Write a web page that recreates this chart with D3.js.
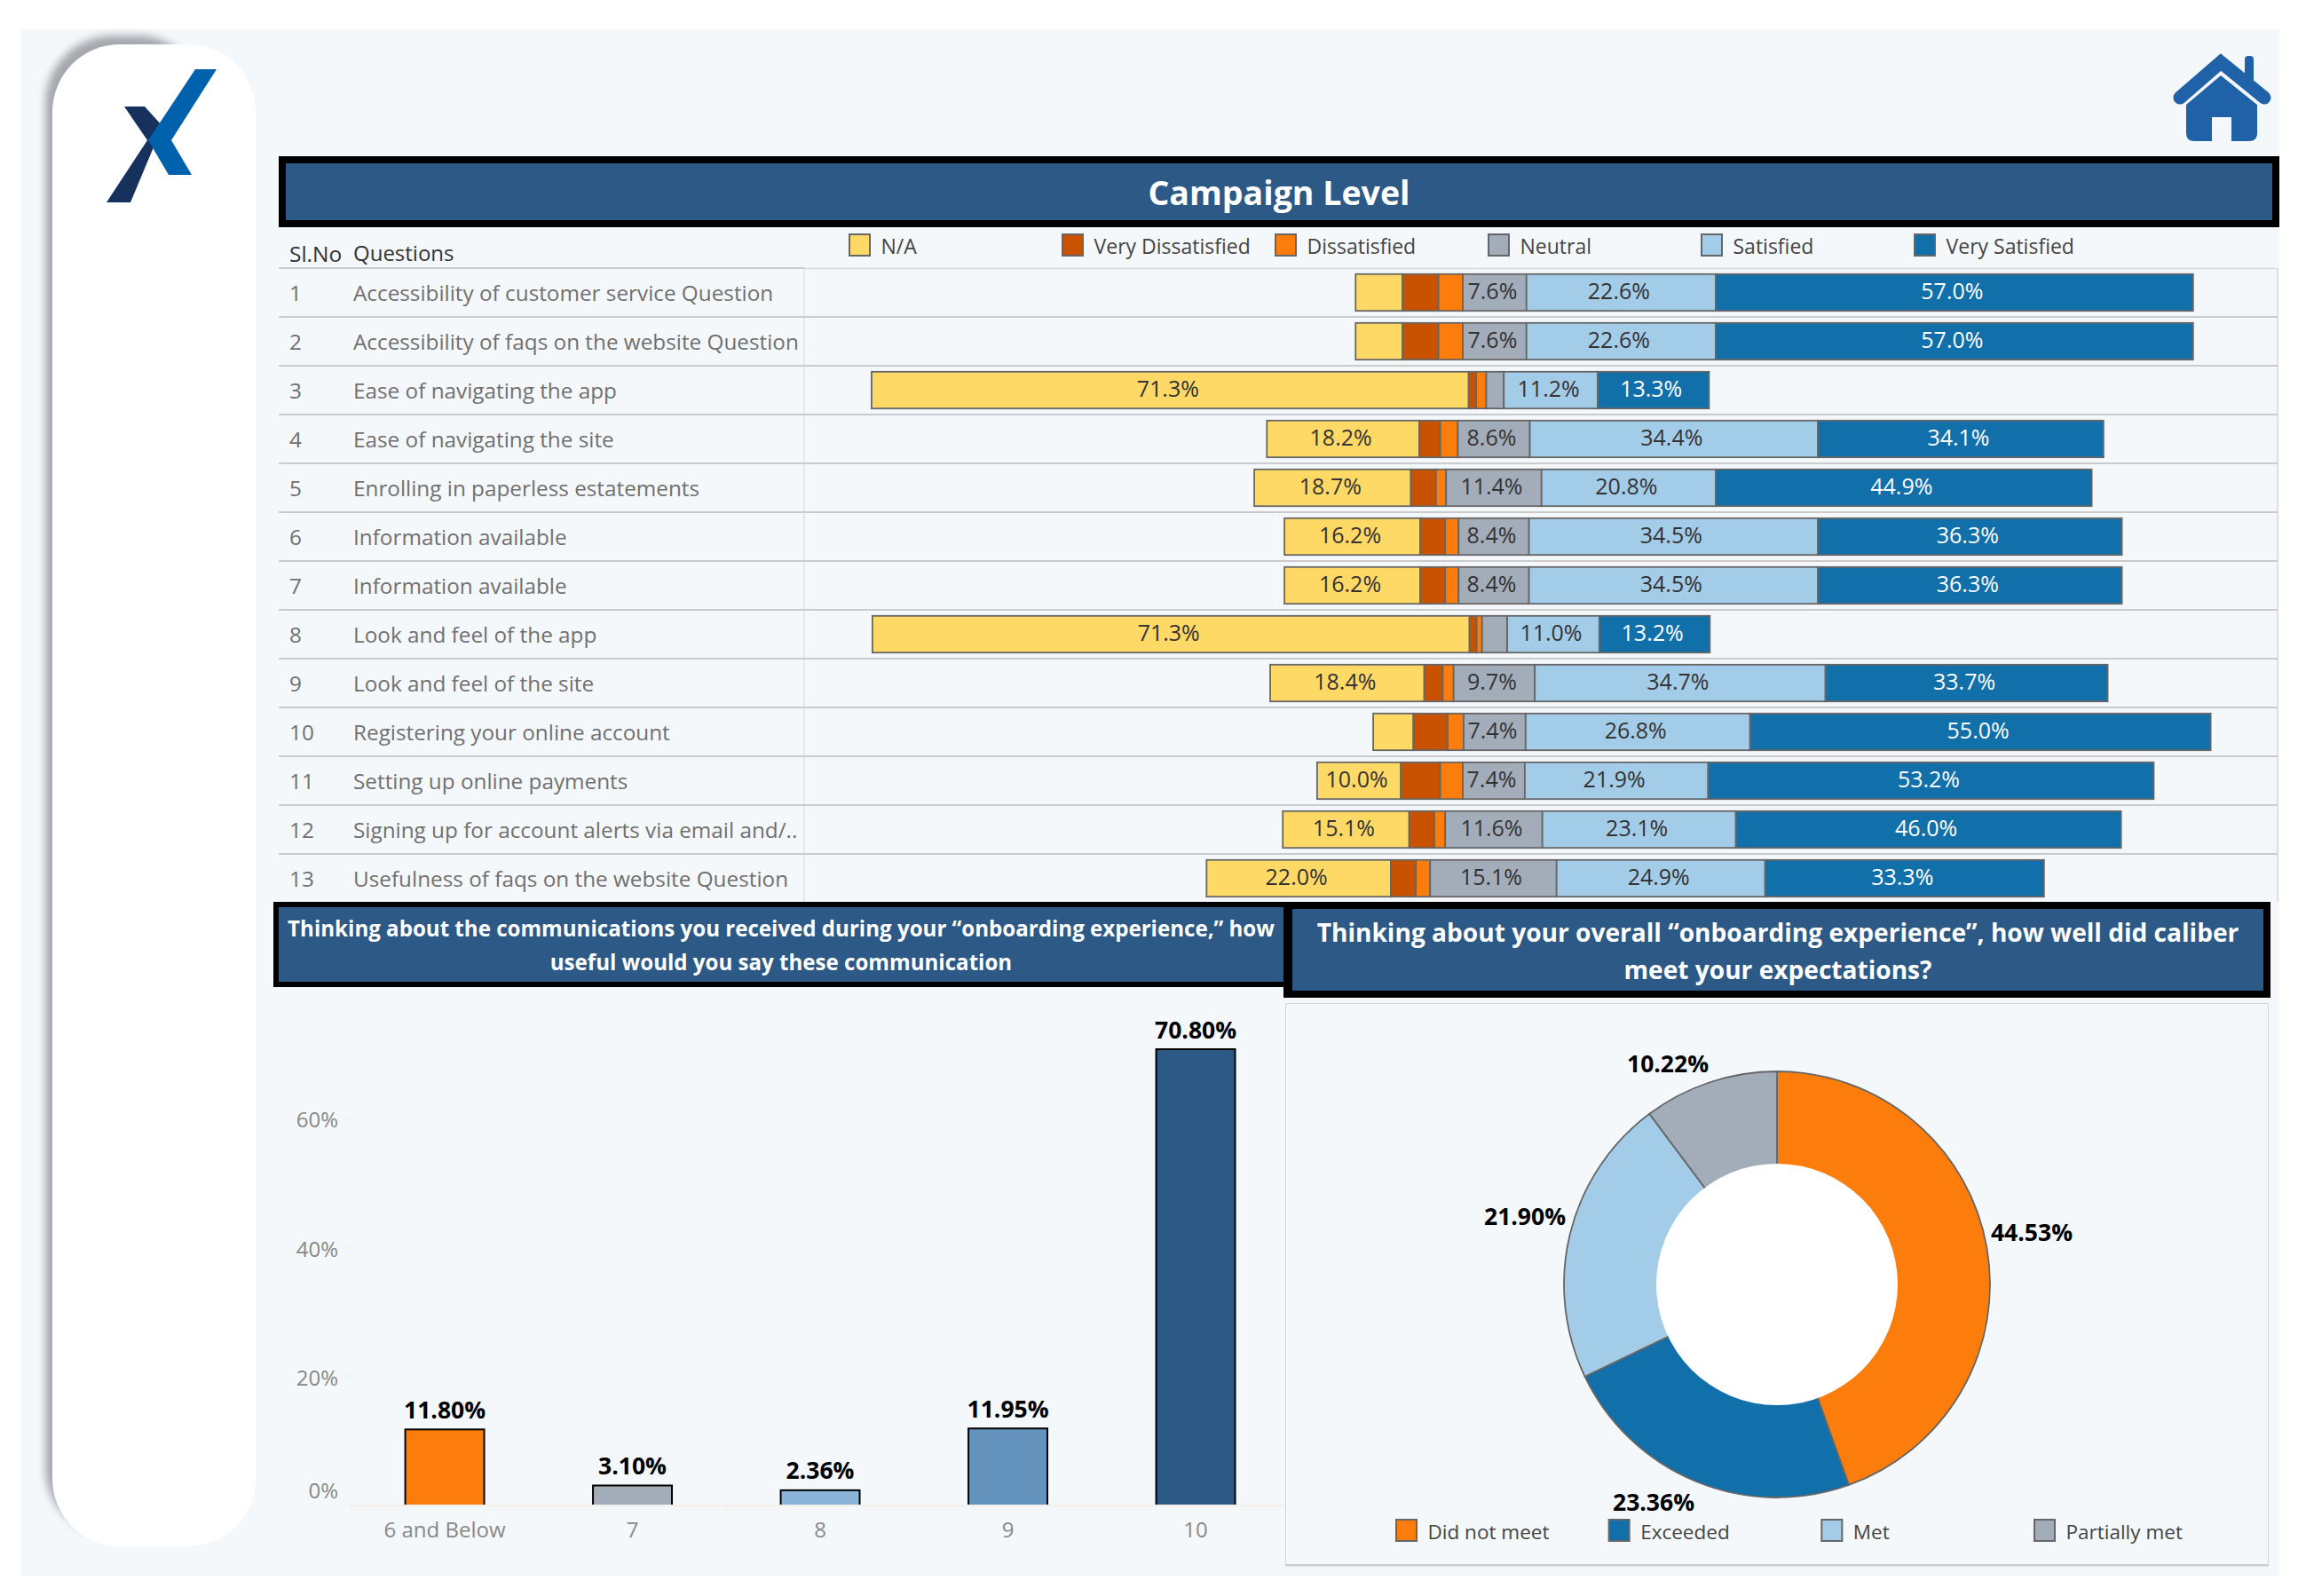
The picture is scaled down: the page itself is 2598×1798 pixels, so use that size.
<!DOCTYPE html>
<html><head><meta charset="utf-8">
<script src="https://cdn.jsdelivr.net/npm/d3@7"></script>
<style>
html,body{margin:0;padding:0;background:#fff;}
svg{display:block;}
text{font-family:"Open Sans",sans-serif;}
</style></head><body>
<svg id="c" width="2598" height="1798"></svg>
<script>
// ---------- data ----------
const rowNo = [1,2,3,4,5,6,7,8,9,10,11,12,13];
const questions = [
 "Accessibility of customer service Question",
 "Accessibility of faqs on the website Question",
 "Ease of navigating the app",
 "Ease of navigating the site",
 "Enrolling in paperless estatements",
 "Information available",
 "Information available",
 "Look and feel of the app",
 "Look and feel of the site",
 "Registering your online account",
 "Setting up online payments",
 "Signing up for account alerts via email and/..",
 "Usefulness of faqs on the website Question"];
const seriesNames = ["N/A","Very Dissatisfied","Dissatisfied","Neutral","Satisfied","Very Satisfied"];
const barStart        = [57.9,57.9,0.1,47.3,45.8,49.4,49.4,0.2,47.7,60.0,53.3,49.2,40.1];
const naValues        = [5.6,5.6,71.3,18.2,18.7,16.2,16.2,71.3,18.4,4.8,10.0,15.1,22.0];
const veryDissValues  = [4.3,4.3,0.9,2.5,3.0,3.0,3.0,0.85,2.2,4.1,4.7,3.0,3.0];
const dissValues      = [2.9,2.9,1.2,2.1,1.2,1.6,1.6,0.65,1.3,1.9,2.7,1.3,1.7];
const neutralValues   = [7.6,7.6,2.1,8.6,11.4,8.4,8.4,3.0,9.7,7.4,7.4,11.6,15.1];
const satisfiedValues = [22.6,22.6,11.2,34.4,20.8,34.5,34.5,11.0,34.7,26.8,21.9,23.1,24.9];
const verySatValues   = [57.0,57.0,13.3,34.1,44.9,36.3,36.3,13.2,33.7,55.0,53.2,46.0,33.3];
const seriesColors = ["#ffd966","#c85200","#fc7d0b","#a3acb9","#a3cce9","#1170aa"];

const npsCats = ["6 and Below","7","8","9","10"];
const npsValues = [11.80,3.10,2.36,11.95,70.80];
const npsColors = ["#fc7d0b","#a3acb9","#8ab4d8","#6393bd","#2c5985"];
const npsTicks = [0,20,40,60];

const expCats = ["Did not meet","Exceeded","Met","Partially met"];
const expValues = [44.53,23.36,21.90,10.22];
const expColors = ["#fc7d0b","#1170aa","#a3cce9","#a3acb9"];

const titleMain = "Campaign Level";
const titleLeft = ["Thinking about the communications you received during your “onboarding experience,” how","useful would you say these communication"];
const titleRight = ["Thinking about your overall “onboarding experience”, how well did caliber","meet your expectations?"];

// ---------- page ----------
const svg = d3.select("#c");
const NAVY = "#2c5985", PANEL = "#f5f8fb", EDGE = "#666666", RULE = "#cbcbcb";
const defs = svg.append("defs");
defs.append("filter").attr("id","blur").attr("x","-20%").attr("y","-20%").attr("width","140%").attr("height","140%")
  .append("feGaussianBlur").attr("stdDeviation",5);
defs.append("clipPath").attr("id","panelClip").append("rect").attr("x",24).attr("y",33).attr("width",2544).attr("height",1743);
defs.append("clipPath").attr("id","baseClip").append("rect").attr("x",380).attr("y",1100).attr("width",1070).attr("height",595);

svg.append("rect").attr("width",2598).attr("height",1798).attr("fill","#fff");
svg.append("rect").attr("x",24).attr("y",33).attr("width",2544).attr("height",1743).attr("fill",PANEL);

// sidebar
svg.append("g").attr("clip-path","url(#panelClip)").append("rect")
  .attr("x",51).attr("y",40).attr("width",180).attr("height",1690).attr("rx",76)
  .attr("fill","#a4a8ad").attr("filter","url(#blur)");
svg.append("rect").attr("x",59).attr("y",50).attr("width",229).attr("height",1692).attr("rx",76).attr("fill","#fff");
// logo
svg.append("polygon").attr("points","140,120 163,120 183,142 147,228 120,228 166,158").attr("fill","#16325c");
svg.append("polygon").attr("points","220,78 244,78 193,158 216,197 190,197 167,158").attr("fill","#0061ad");
// home icon
const home = svg.append("g").attr("fill","#1f62a8");
home.append("path").attr("d","M2456 110 L2502 70 L2551 110").attr("fill","none").attr("stroke","#1f62a8").attr("stroke-width",15).attr("stroke-linecap","round");
home.append("rect").attr("x",2529).attr("y",63).attr("width",10).attr("height",30).attr("rx",4);
home.append("path").attr("fill-rule","evenodd").attr("d","M2502 85 L2543 118 L2543 150 Q2543 159 2534 159 L2472 159 Q2463 159 2463 150 L2463 118 Z M2492 132 L2492 159 L2514 159 L2514 132 Z");

function titleBox(x0,y0,x1,y1,ix0,iy0,ix1,iy1){
  svg.append("rect").attr("x",x0).attr("y",y0).attr("width",x1-x0).attr("height",y1-y0).attr("fill","#000");
  svg.append("rect").attr("x",ix0).attr("y",iy0).attr("width",ix1-ix0).attr("height",iy1-iy0).attr("fill",NAVY);
}
titleBox(314,176,2568,256,322,184,2560,248);
svg.append("text").attr("x",1441).attr("y",221).attr("text-anchor","middle").attr("dominant-baseline","middle")
  .attr("font-size",37.5).attr("font-weight",700).attr("fill","#fff").text(titleMain);

// ---------- table ----------
const x = d3.scaleLinear().domain([0,100]).range([981,1924.5]);
const y = d3.scaleBand().domain(rowNo).range([302,1017]);
const allSeries = [naValues,veryDissValues,dissValues,neutralValues,satisfiedValues,verySatValues];

// grid lines
svg.append("line").attr("x1",906).attr("x2",906).attr("y1",302).attr("y2",1016).attr("stroke","#d6d8da").attr("stroke-width",1);
svg.append("line").attr("x1",2566).attr("x2",2566).attr("y1",302).attr("y2",1016).attr("stroke","#d6d8da").attr("stroke-width",1.5);
svg.append("line").attr("x1",906).attr("x2",2566).attr("y1",302.5).attr("y2",302.5).attr("stroke","#d6d8da").attr("stroke-width",1.5);
svg.append("line").attr("x1",314).attr("x2",906).attr("y1",302).attr("y2",302).attr("stroke",RULE).attr("stroke-width",2);
svg.selectAll("line.row").data(rowNo.slice(1)).join("line").attr("class","row")
  .attr("x1",314).attr("x2",2566).attr("y1",d=>y(d)).attr("y2",d=>y(d)).attr("stroke",RULE).attr("stroke-width",2);

// header and row text
svg.append("text").attr("x",326).attr("y",288).attr("dominant-baseline","middle").attr("font-size",24.5).attr("fill","#333").text("Sl.No");
svg.append("text").attr("x",398).attr("y",288).attr("dominant-baseline","middle").attr("font-size",24).attr("fill","#333").text("Questions");
svg.selectAll("text.no").data(rowNo).join("text").attr("class","no")
  .attr("x",326).attr("y",d=>y(d)+y.bandwidth()/2+3).attr("dominant-baseline","middle")
  .attr("font-size",24.3).attr("fill","#707070").text(d=>d);
svg.selectAll("text.q").data(questions).join("text").attr("class","q")
  .attr("x",398).attr("y",(d,i)=>y(rowNo[i])+y.bandwidth()/2+3).attr("dominant-baseline","middle")
  .attr("font-size",24.3).attr("fill","#707070").text(d=>d);

// stacked bars
rowNo.forEach((r,i)=>{
  const g = svg.append("g");
  const cy = y(r)+y.bandwidth()/2;
  let acc = barStart[i];
  const segs = allSeries.map((s,k)=>{const o={k,v:s[i],a:acc};acc+=s[i];return o;});
  g.selectAll("rect").data(segs).join("rect")
    .attr("x",d=>x(d.a)).attr("width",d=>x(d.a+d.v)-x(d.a))
    .attr("y",cy-20.7).attr("height",41.4)
    .attr("fill",d=>seriesColors[d.k]).attr("stroke",EDGE).attr("stroke-width",1.8);
  g.selectAll("text").data(segs.filter(d=>d.v>=7)).join("text")
    .attr("x",d=>(x(d.a)+x(d.a+d.v))/2-2.5).attr("y",cy+1)
    .attr("text-anchor","middle").attr("dominant-baseline","middle").attr("font-size",25)
    .attr("fill",d=>d.k===5?"#fff":"#333").text(d=>d.v.toFixed(1)+"%");
});

// top legend
const legSwatch = d3.scaleBand().domain(seriesNames).range([956,2396]);
const lg = svg.selectAll("g.leg").data(seriesNames).join("g").attr("class","leg")
  .attr("transform",d=>`translate(${legSwatch(d)},0)`);
lg.append("rect").attr("x",1).attr("y",264).attr("width",23).attr("height",24)
  .attr("fill",(d,i)=>seriesColors[i]).attr("stroke",EDGE).attr("stroke-width",2);
lg.append("text").attr("x",36.5).attr("y",279.5).attr("dominant-baseline","middle").attr("font-size",23).attr("fill","#444").text(d=>d);

// ---------- lower left: bar chart ----------
titleBox(308,1016,1450,1112,314,1022,1447,1106);
titleLeft.forEach((t,i)=>svg.append("text").attr("x",880).attr("y",1048.5+i*38).attr("text-anchor","middle")
  .attr("dominant-baseline","middle").attr("font-size",24.1).attr("font-weight",700).attr("fill","#fff").text(t));

const bx = d3.scaleBand().domain(npsCats).range([395.3,1452.8]).paddingInner(.57).paddingOuter(.285);
const by = d3.scaleLinear().domain([0,70.8]).range([1695,1181]);

const xAxis = svg.append("g").attr("transform","translate(0,1696)")
  .call(d3.axisBottom(bx).tickSize(0).tickFormat(d=>d).tickPadding(20));
xAxis.select(".domain").attr("stroke","#f3ede8").attr("stroke-width",2);
xAxis.selectAll("text").attr("font-size",24).attr("fill","#888").attr("font-family",'"Open Sans",sans-serif').attr("dy","0.66em");
const yAxis = svg.append("g").attr("transform","translate(396,0)")
  .call(d3.axisLeft(by).tickValues(npsTicks).tickSize(10).tickPadding(5).tickFormat(d=>d+"%"));
yAxis.select(".domain").attr("stroke","#f5f6f7");
yAxis.selectAll("line").attr("stroke","#f3ede8");
yAxis.selectAll("text").attr("font-size",24).attr("fill","#888").attr("font-family",'"Open Sans",sans-serif').attr("dy","0.44em")
  .filter(d=>d===0).attr("dy","-0.32em");
const seps = svg.append("g");
seps.selectAll("line").data(bx.domain()).join("line")
  .attr("x1",d=>bx(d)-bx.step()*.285).attr("x2",d=>bx(d)-bx.step()*.285)
  .attr("y1",1696).attr("y2",1704).attr("stroke","#f3ede8").attr("stroke-width",1);

svg.append("g").attr("clip-path","url(#baseClip)").selectAll("rect").data(npsCats).join("rect")
  .attr("x",d=>bx(d)+1).attr("width",bx.bandwidth()-2)
  .attr("y",(d,i)=>by(npsValues[i])+1).attr("height",(d,i)=>by(0)-by(npsValues[i])+6)
  .attr("fill",(d,i)=>npsColors[i]).attr("stroke","#000").attr("stroke-width",2);
svg.selectAll("text.val").data(npsCats).join("text").attr("class","val")
  .attr("x",d=>bx(d)+bx.bandwidth()/2).attr("y",(d,i)=>by(npsValues[i])-18.5)
  .attr("text-anchor","middle").attr("dominant-baseline","middle").attr("font-size",26.5)
  .attr("font-weight",700).attr("fill","#000").text((d,i)=>npsValues[i].toFixed(2)+"%");

// ---------- lower right: donut ----------
titleBox(1446,1016,2558,1124,1456,1024,2550,1116);
titleRight.forEach((t,i)=>svg.append("text").attr("x",2003).attr("y",1053+i*42).attr("text-anchor","middle")
  .attr("dominant-baseline","middle").attr("font-size",28.1).attr("font-weight",700).attr("fill","#fff").text(t));

svg.append("rect").attr("x",1448.5).attr("y",1130.5).attr("width",1107).attr("height",632).attr("fill",PANEL)
  .attr("stroke","#d4d6d8").attr("stroke-width",1);
svg.append("line").attr("x1",1448).attr("x2",2556).attr("y1",1763.5).attr("y2",1763.5).attr("stroke",RULE).attr("stroke-width",2);

const pieG = svg.append("g").attr("transform","translate(2002,1447)");
const pie = d3.pie().sort(null).value(d=>d)(expValues);
const arc = d3.arc().innerRadius(0).outerRadius(240);
pieG.selectAll("path").data(pie).join("path").attr("d",arc)
  .attr("fill",(d,i)=>expColors[i]).attr("stroke",EDGE).attr("stroke-width",1.8);
pieG.append("circle").attr("r",136).attr("fill","#fff");
const lblPos = [[287,-56],[-139,248],[-284,-74],[-123,-246]];
pieG.selectAll("text").data(pie).join("text")
  .attr("x",(d,i)=>lblPos[i][0]).attr("y",(d,i)=>lblPos[i][1])
  .attr("text-anchor","middle").attr("dominant-baseline","middle").attr("font-size",26.5)
  .attr("font-weight",700).attr("fill","#000").text((d,i)=>expValues[i].toFixed(2)+"%");

const pieLeg = d3.scalePoint().domain(expCats).range([1572,2291]);
const pl = svg.selectAll("g.pl").data(expCats).join("g").attr("class","pl")
  .attr("transform",d=>`translate(${pieLeg(d)},0)`);
pl.append("rect").attr("x",1).attr("y",1712).attr("width",23).attr("height",24)
  .attr("fill",(d,i)=>expColors[i]).attr("stroke",EDGE).attr("stroke-width",2);
pl.append("text").attr("x",36.5).attr("y",1727.5).attr("dominant-baseline","middle").attr("font-size",22.5).attr("fill","#444").text(d=>d);
</script>
</body></html>
